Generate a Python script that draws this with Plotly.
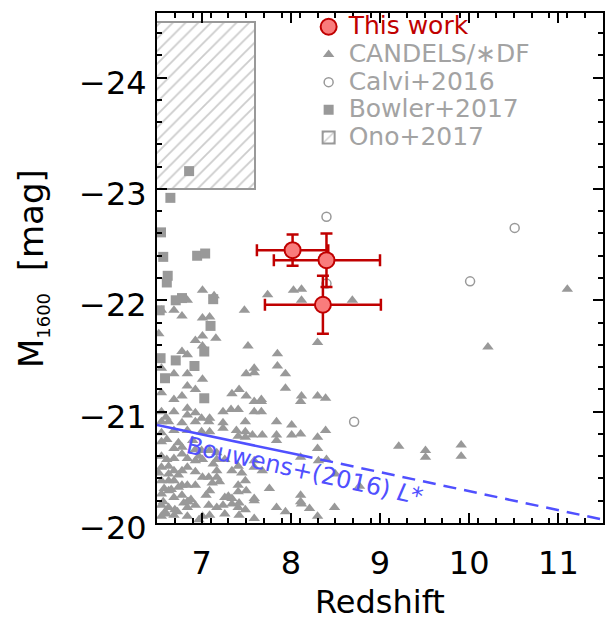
import plotly.graph_objects as go

# ---------------- data ----------------
# This work
tw_z = [8.02, 8.40, 8.36]
tw_m = [-22.45, -22.36, -21.96]
tw_zerr = [0.40, 0.60, 0.65]
tw_zerr_minus = [0.40, 0.59, 0.65]
tw_merr = [0.14, 0.24, 0.26]

# CANDELS / *DF
cand_z = [7.01, 7.14, 7.74, 8.03, 8.12, 8.12, 8.69, 6.84, 6.55, 6.69, 6.78, 7.48, 7.01, 7.09,
          6.93, 7.01, 7.16, 7.01, 6.78, 6.84, 7.52, 7.85, 8.30, 6.55, 6.69, 6.84, 7.01, 7.50,
          7.59, 7.59, 7.85, 7.94, 6.84, 6.93, 6.55, 7.34, 7.42, 7.50, 7.94, 8.12, 6.78, 6.69,
          7.67, 8.30, 8.39, 7.59, 7.67, 8.11, 6.55, 6.69, 6.84, 6.84, 6.93, 7.00, 7.09, 7.24,
          7.33, 7.41, 7.59, 7.67, 6.55, 6.63, 6.78, 6.93, 7.08, 7.24, 7.24, 7.49, 7.84, 8.01,
          8.11, 8.30, 8.39, 6.55, 6.69, 6.84, 7.00, 7.09, 7.39, 7.41, 7.49, 7.49, 7.57, 7.68,
          7.84, 7.84, 8.01, 8.30, 9.21, 9.51, 9.51, 6.55, 6.69, 6.78, 6.78, 6.93, 7.00, 7.09,
          6.55, 6.61, 6.69, 6.84, 6.93, 7.01, 7.17, 7.17, 7.26, 7.41, 7.59, 7.59, 7.68, 7.76,
          8.11, 8.31, 8.40, 8.50, 8.77, 6.55, 6.63, 6.69, 6.78, 6.84, 6.93, 7.01, 7.08, 7.17,
          7.17, 7.34, 7.41, 7.49, 7.50, 6.55, 6.63, 6.69, 6.78, 6.84, 6.93, 7.09, 7.26, 7.34,
          7.41, 7.59, 7.84, 7.94, 8.11, 8.11, 8.30, 8.49, 6.55, 6.63, 6.69, 6.78, 6.84, 6.93,
          6.55, 6.63, 6.70, 6.84, 7.08, 7.17, 7.26, 7.41, 7.49, 7.59, 6.55, 6.84, 7.01, 6.57,
          6.80, 6.85, 7.24, 7.34, 7.42, 7.59, 6.59, 6.69, 7.09, 7.42, 8.12, 8.21, 9.91, 9.91,
          10.21, 11.10, 6.52, 6.60, 6.52, 6.61, 6.74, 6.90, 6.97, 7.13, 6.63, 6.74, 7.20,
          6.58, 6.66, 6.74, 6.88, 7.05, 7.12, 6.60, 6.73, 6.97, 7.30, 7.45]
cand_m = [-22.09, -22.04, -22.05, -22.09, -22.10, -22.00, -22.00, -22.00, -21.91, -21.91, -21.86,
          -21.91, -21.84, -21.85, -21.64, -21.68, -21.66, -21.59, -21.54, -21.51, -21.59, -21.52,
          -21.62, -21.39, -21.34, -21.34, -21.29, -21.34, -21.39, -21.35, -21.41, -21.34, -21.23,
          -21.20, -21.17, -21.16, -21.20, -21.14, -21.21, -21.14, -21.14, -21.11, -21.11, -21.14,
          -21.12, -21.09, -21.09, -21.09, -21.00, -21.00, -21.03, -20.97, -20.99, -20.94, -20.94,
          -21.00, -21.02, -21.02, -21.00, -21.00, -20.91, -20.91, -20.90, -20.91, -20.91, -20.90,
          -20.85, -20.91, -20.91, -20.88, -20.80, -20.77, -20.83, -20.81, -20.83, -20.83, -20.82,
          -20.82, -20.83, -20.78, -20.82, -20.77, -20.79, -20.79, -20.79, -20.74, -20.79, -20.67,
          -20.69, -20.65, -20.59, -20.73, -20.67, -20.68, -20.62, -20.66, -20.65, -20.65, -20.60,
          -20.57, -20.58, -20.58, -20.56, -20.57, -20.57, -20.63, -20.57, -20.51, -20.56, -20.50,
          -20.47, -20.31, -20.59, -20.56, -20.57, -20.44, -20.33, -20.50, -20.51, -20.47, -20.47,
          -20.50, -20.46, -20.41, -20.41, -20.47, -20.41, -20.47, -20.34, -20.38, -20.29, -20.38,
          -20.38, -20.38, -20.34, -20.34, -20.34, -20.29, -20.23, -20.22, -20.28, -20.22, -20.14,
          -20.10, -20.25, -20.19, -20.06, -20.14, -20.26, -20.29, -20.23, -20.25, -20.19, -20.16,
          -20.16, -20.14, -20.12, -20.14, -20.16, -20.14, -20.08, -20.14, -20.12, -20.04, -20.06,
          -20.06, -20.06, -20.19, -20.18, -20.19, -20.16, -20.17, -20.18, -20.20, -20.10, -20.07,
          -20.07, -20.07, -20.17, -20.13, -20.70, -20.60, -21.58, -22.10, -21.70, -20.95, -20.45,
          -20.75, -20.72, -20.74, -20.60, -20.53, -20.44, -20.43, -20.37, -20.31, -20.30, -20.32,
          -20.21, -20.25, -20.36, -20.08, -20.10, -20.03, -20.24, -20.45]

# Calvi+2016
calvi_z = [8.40, 8.40, 10.51, 10.01, 8.71]
calvi_m = [-22.75, -22.15, -22.65, -22.17, -20.91]

# Bowler+2017
bowler_z = [6.86, 6.65, 6.545, 6.57, 6.95, 7.04, 6.62, 6.61, 6.71, 6.78, 7.13, 6.53, 7.10,
            7.03, 6.71, 6.54, 6.92, 6.59, 7.03]
bowler_m = [-23.16, -22.92, -22.61, -22.39, -22.40, -22.42, -22.22, -22.16, -22.00, -22.02,
            -22.01, -21.91, -21.77, -21.54, -21.46, -21.48, -21.41, -21.30, -21.12]

# Ono+2017 region: redshift range and magnitude range
ono_z_range = [6.4, 7.6]
ono_m_range = [-23.0, -24.5]

# Bouwens+(2016) L*
bw_z_solid = [6.5, 8.1]
bw_m_solid = [-20.88, -20.61]
bw_z_dash = [8.1, 11.5]
bw_m_dash = [-20.61, -20.03]

x_ticks = [7, 8, 9, 10, 11]
y_ticks = [-24, -23, -22, -21, -20]

GRAY = "#999999"
TGRAY = "#A3A3A3"
DRED = "#C00000"
FILLRED = "#F97C7C"
BLUE = "#5050FF"
FONT = "DejaVu Sans"

fig = go.Figure()

fig.add_trace(go.Bar(
    x=[(ono_z_range[0] + ono_z_range[1]) / 2],
    y=[ono_m_range[1] - ono_m_range[0]],
    base=[ono_m_range[0]],
    width=[ono_z_range[1] - ono_z_range[0]],
    marker=dict(color="white", line=dict(color=GRAY, width=2),
                pattern=dict(shape="/", fgcolor=GRAY, bgcolor="white", size=9, solidity=0.2)),
    name='<span style="font-size:25px;color:%s">Ono+2017</span>' % TGRAY,
    legendrank=5, hoverinfo="skip",
))

fig.add_trace(go.Scatter(
    x=cand_z, y=cand_m, mode="markers",
    marker=dict(symbol="triangle-up", size=10, color=GRAY, line=dict(width=0)),
    name='<span style="font-size:25px;color:%s">CANDELS/∗DF</span>' % TGRAY,
    legendrank=2,
))

fig.add_trace(go.Scatter(
    x=bowler_z, y=bowler_m, mode="markers",
    marker=dict(symbol="square", size=10, color=GRAY, line=dict(width=0)),
    name='<span style="font-size:25px;color:%s">Bowler+2017</span>' % TGRAY,
    legendrank=4,
))

fig.add_trace(go.Scatter(
    x=calvi_z, y=calvi_m, mode="markers",
    marker=dict(symbol="circle-open", size=9, color=GRAY, line=dict(width=1.5)),
    name='<span style="font-size:25px;color:%s">Calvi+2016</span>' % TGRAY,
    legendrank=3,
))

fig.add_trace(go.Scatter(
    x=bw_z_solid, y=bw_m_solid, mode="lines",
    line=dict(color=BLUE, width=2.5), showlegend=False,
))
fig.add_trace(go.Scatter(
    x=bw_z_dash, y=bw_m_dash, mode="lines",
    line=dict(color=BLUE, width=2.5, dash="13px,8px"), showlegend=False,
))

fig.add_trace(go.Scatter(
    x=tw_z, y=tw_m, mode="markers",
    marker=dict(symbol="circle", size=16, color=FILLRED, line=dict(color=DRED, width=2)),
    error_x=dict(type="data", array=tw_zerr, arrayminus=tw_zerr_minus, color=DRED,
                 thickness=2.5, width=6),
    error_y=dict(type="data", array=tw_merr, color=DRED, thickness=2.5, width=6),
    name='<span style="font-size:25px;color:%s">This work</span>' % DRED,
    legendrank=1,
))

fig.add_annotation(
    x=8.15, y=-20.47, xref="x", yref="y",
    text="Bouwens+(2016) <i>L</i>*", showarrow=False, textangle=12.5,
    font=dict(family=FONT, size=24, color=BLUE),
)

# axis titles
fig.add_annotation(
    x=0.5, y=-0.155, xref="paper", yref="paper", xanchor="center", yanchor="middle",
    text="Redshift", showarrow=False, font=dict(family=FONT, size=32, color="black"),
)
fig.add_annotation(
    x=-0.279, y=0.499, xref="paper", yref="paper", xanchor="center", yanchor="middle",
    text='M<sub><span style="font-size:18px">1600</span></sub>  [mag]', showarrow=False,
    textangle=-90, font=dict(family=FONT, size=34, color="black"),
)

axis_common = dict(
    showline=True, linecolor="black", linewidth=2, mirror="allticks",
    ticks="inside", ticklen=10, tickwidth=1.8, tickcolor="black",
    showgrid=False, zeroline=False, automargin=False,
    tickfont=dict(family=FONT, size=32, color="black"),
)

fig.update_xaxes(
    range=[6.5, 11.5], tickvals=x_ticks, ticktext=[str(v) for v in x_ticks],
    minor=dict(dtick=0.2, tick0=6.5, ticks="inside", ticklen=5, tickwidth=1.8, tickcolor="black"),
    ticklabelstandoff=11,
    **axis_common,
)
fig.update_yaxes(
    range=[-20, -24.58], tickvals=y_ticks, ticktext=["\u2212%d" % abs(v) for v in y_ticks],
    minor=dict(dtick=0.2, tick0=-20, ticks="inside", ticklen=5, tickwidth=1.8, tickcolor="black"),
    ticklabelstandoff=2, ticklabelshift=-5,
    **axis_common,
)

fig.update_layout(
    width=613, height=622,
    margin=dict(l=157, r=10, t=8, b=99),
    paper_bgcolor="white", plot_bgcolor="white",
    font=dict(family=FONT),
    showlegend=True, bargap=0,
    legend=dict(
        x=0.34, y=1.01, xanchor="left", yanchor="top",
        bgcolor="rgba(0,0,0,0)", borderwidth=0,
        font=dict(family=FONT, size=19),
        traceorder="normal", itemwidth=30,
    ),
)

fig.write_html("out.html", config={"displayModeBar": False},
               post_script="document.body.style.margin='0px';")
